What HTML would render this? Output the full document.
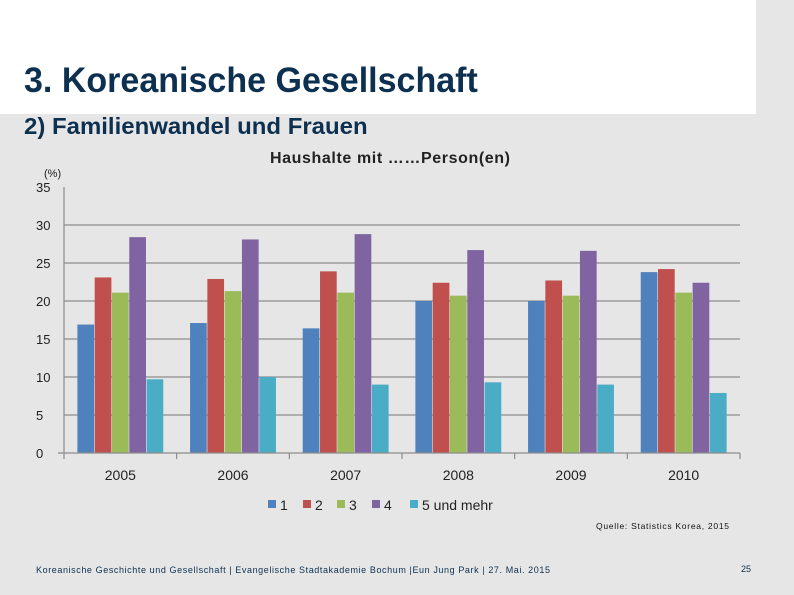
<!DOCTYPE html>
<html><head><meta charset="utf-8"><style>
body{margin:0;width:794px;height:595px;background:#e6e6e6;font-family:"Liberation Sans",sans-serif;position:relative;overflow:hidden}
.t{position:absolute;white-space:nowrap}
</style></head><body>
<div style="position:absolute;left:0;top:0;width:756px;height:114px;background:#fff"></div>
<div class="t" style="left:24px;top:61px;font-size:35px;font-weight:bold;color:#0d3050;transform:scaleX(0.972);transform-origin:left top">3. Koreanische Gesellschaft</div>
<div class="t" style="left:24px;top:113px;font-size:23.5px;font-weight:bold;color:#0d3050;transform:scaleX(1.02);transform-origin:left top">2) Familienwandel und Frauen</div>
<svg width="794" height="595" style="position:absolute;left:0;top:0">
<text x="390" y="163" text-anchor="middle" font-size="16" font-weight="bold" font-family="Liberation Sans" fill="#222" textLength="240">Haushalte mit ……Person(en)</text>
<text x="44" y="177" font-size="11" font-family="Liberation Sans" fill="#222">(%)</text>
<g id="grid"></g><g id="bars"></g><g id="axes"></g><g id="legend"></g>
<text x="596" y="529" font-size="8.5" font-family="Liberation Sans" fill="#111" textLength="133">Quelle: Statistics Korea, 2015</text>
<text x="36" y="573" font-size="9" font-family="Liberation Sans" fill="#0d3050" textLength="514">Koreanische Geschichte und Gesellschaft | Evangelische Stadtakademie Bochum |Eun Jung Park | 27. Mai. 2015</text>
<text x="741" y="572" font-size="9" font-family="Liberation Sans" fill="#0d3050">25</text>
</svg>
<script>
const categories=["2005","2006","2007","2008","2009","2010"];
const seriesNames=["1","2","3","4","5 und mehr"];
const s1=[16.9,17.1,16.4,20.0,20.0,23.8];
const s2=[23.1,22.9,23.9,22.4,22.7,24.2];
const s3=[21.1,21.3,21.1,20.7,20.7,21.1];
const s4=[28.4,28.1,28.8,26.7,26.6,22.4];
const s5=[9.7,10.0,9.0,9.3,9.0,7.9];
const yTicks=[0,5,10,15,20,25,30,35];
const colors=["#4f81bd","#c0504d","#9bbb59","#8064a2","#4bacc6"];
const NS="http://www.w3.org/2000/svg";
const X0=64,X1=740,Y0=453,PX=7.6;
const gw=(X1-X0)/categories.length,bw=17.3;
function y(v){return Y0-v*PX;}
function mk(p,t,a){const e=document.createElementNS(NS,t);for(const k in a)e.setAttribute(k,a[k]);p.appendChild(e);return e;}
const grid=document.getElementById('grid'),bars=document.getElementById('bars'),axes=document.getElementById('axes'),leg=document.getElementById('legend');
yTicks.forEach(v=>{
 if(v>0&&v<35){const l=mk(grid,'line',{x1:X0,x2:X1,y1:y(v),y2:y(v),stroke:'#8c8c8c','stroke-width':1.2});
 
 }
 const t=mk(axes,'text',{x:36,y:y(v)+5,'font-size':13,'font-family':'Liberation Sans',fill:'#222'});t.textContent=v;
 
 
});
const series=[s1,s2,s3,s4,s5];
categories.forEach((c,i)=>{
 const gx=X0+i*gw;
 const off=(gw-5*bw)/2;
 series.forEach((s,j)=>{
  const r=mk(bars,'rect',{x:gx+off+j*bw+0.3,y:y(s[i]),width:bw-0.6,height:s[i]*PX,fill:colors[j]});
  
  
 });
 const t=mk(axes,'text',{x:gx+gw/2,y:480,'text-anchor':'middle','font-size':14,'font-family':'Liberation Sans',fill:'#222'});t.textContent=c;
 
 
 const tk=mk(axes,'line',{x1:gx+gw,x2:gx+gw,y1:Y0,y2:Y0+6,stroke:'#8c8c8c','stroke-width':1.2});
 
 
});
const ya=mk(axes,'line',{x1:X0,x2:X0,y1:187,y2:Y0+6,stroke:'#8c8c8c','stroke-width':1.2});


const xa=mk(axes,'line',{x1:X0-6,x2:X1,y1:Y0,y2:Y0,stroke:'#8c8c8c','stroke-width':1.2});


const lx=[268,303,337,372,410];
seriesNames.forEach((n,j)=>{
 const g=mk(leg,'g',{});
 
 
 mk(g,'rect',{x:lx[j],y:500,width:8,height:8,fill:colors[j]});
 const t=mk(g,'text',{x:lx[j]+12,y:510,'font-size':14,'font-family':'Liberation Sans',fill:'#222'});t.textContent=n;
});
</script>
</body></html>
